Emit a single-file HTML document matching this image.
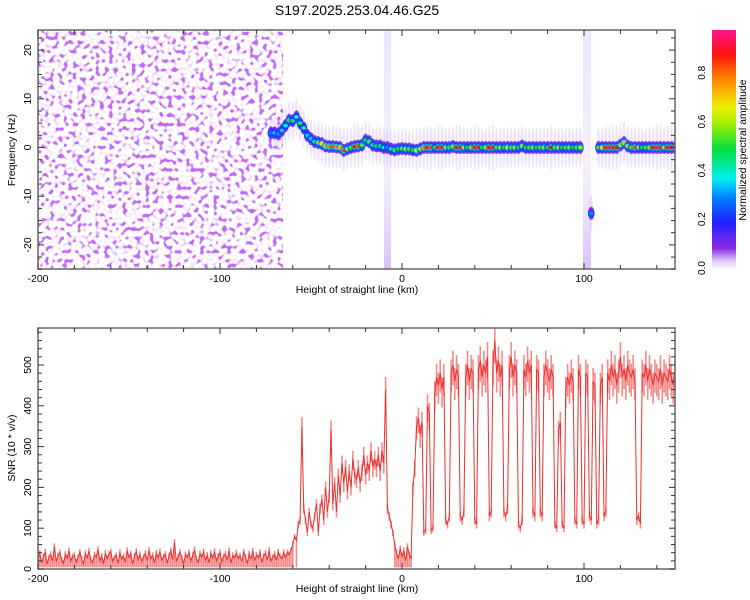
<!DOCTYPE html>
<html><head><meta charset="utf-8"><style>
html,body{margin:0;padding:0;background:#fff;}
svg{display:block;font-family:"Liberation Sans",sans-serif;}
</style></head><body>
<svg id="chart" width="750" height="600" xmlns="http://www.w3.org/2000/svg">
<defs>
<filter id="speckle" filterUnits="userSpaceOnUse" x="38" y="30" width="245" height="240">
<feTurbulence type="fractalNoise" baseFrequency="0.22" numOctaves="1" seed="11" result="t"/>
<feColorMatrix in="t" type="matrix" values="0 0 0 0 0.48  0 0 0 0 0.1  0 0 0 0 0.9  5 0 0 0 -2.3" result="c"/>
<feComponentTransfer in="c"><feFuncA type="discrete" tableValues="0 0.06 0.12 0.18 0.3 0.55 0.9"/></feComponentTransfer>
</filter>
<linearGradient id="cbar" x1="0" y1="1" x2="0" y2="0">
<stop offset="0" stop-color="#ffffff"/><stop offset="0.04" stop-color="#dcc4f7"/><stop offset="0.09" stop-color="#8a2be2"/>
<stop offset="0.2" stop-color="#2020ff"/><stop offset="0.3" stop-color="#0080ff"/><stop offset="0.38" stop-color="#00f0f0"/>
<stop offset="0.5" stop-color="#00e040"/><stop offset="0.62" stop-color="#b0f000"/><stop offset="0.68" stop-color="#f0f000"/>
<stop offset="0.8" stop-color="#ff8000"/><stop offset="0.9" stop-color="#ff1010"/><stop offset="1" stop-color="#ff1493"/>
</linearGradient>
<linearGradient id="smear" x1="0" y1="0" x2="0" y2="1">
<stop offset="0" stop-color="#b080f0" stop-opacity="0.2"/><stop offset="0.6" stop-color="#b080f0" stop-opacity="0.12"/><stop offset="1" stop-color="#9050e8" stop-opacity="0.35"/>
</linearGradient>
<clipPath id="topclip"><rect x="38" y="30" width="637" height="239"/></clipPath>
<clipPath id="botclip"><rect x="38" y="328" width="637" height="241"/></clipPath>
</defs>
<text x="357" y="15" font-size="14" text-anchor="middle">S197.2025.253.04.46.G25</text>
<g id="topplot" clip-path="url(#topclip)">
<rect x="38" y="30" width="245" height="240" fill="#7a30e0" filter="url(#speckle)"/>
<rect x="384" y="30" width="7" height="239" fill="url(#smear)"/>
<rect x="583" y="30" width="8" height="239" fill="url(#smear)"/>
<g id="ridge"></g>
</g>
<g id="topaxes"></g>
<rect x="712" y="30" width="24" height="240" fill="url(#cbar)"/>
<g id="cbticks"></g>
<text transform="translate(746,150) rotate(-90)" font-size="10.5" text-anchor="middle">Normalized spectral amplitude</text>
<text x="357" y="293" font-size="10.5" text-anchor="middle">Height of straight line (km)</text>
<text transform="translate(15,150) rotate(-90)" font-size="10.5" text-anchor="middle">Frequency (Hz)</text>
<g clip-path="url(#botclip)"><g id="snrbars"></g><path id="snrline" fill="none" stroke="#e83030" stroke-width="1"/></g>
<g id="botaxes"></g>
<text x="357" y="592" font-size="10.5" text-anchor="middle">Height of straight line (km)</text>
<text transform="translate(15,448) rotate(-90)" font-size="10.5" text-anchor="middle">SNR (10 * v/v)</text>
</svg>
<script>
const snrStartKm = -200;
const snrValues = [
25,38,15,30,42,12,28,35,20,55,
18,32,40,22,14,36,26,45,19,30,
33,16,28,41,24,12,38,27,44,21,
15,34,29,47,20,31,13,39,25,36,
42,19,27,33,14,40,24,30,17,45,
28,37,12,31,43,22,35,18,29,38,
20,46,25,33,15,39,27,42,21,30,
36,14,32,44,23,65,18,30,41,26,
13,35,28,40,19,33,47,24,16,37,
29,42,21,34,15,38,26,43,20,31,
40,17,30,36,22,45,14,33,27,39,
25,32,18,41,29,13,37,24,44,20,
34,27,40,16,31,38,22,45,19,28,
36,21,42,30,25,40,
28,40,35,45,60, 80,70,110,120,348, 150,120,90,140,110, 100,130,160,90,150, 170,120,200,140,180,
340,160,210,140,230, 180,260,210,250,190, 240,200,270,230,220, 250,210,240,280,230,
260,240,290,250,270, 250,280,240,290,260, 440,150,130,110,90, 60,40,25,50,30,
45,20,55,35,25, 200,250,350,370,330,360,90,95,400,380,95,100,
430,470,450,480,440,470,120,110,130,480,500,460,490,470,130,120,140,470,500,460,490,480,
120,110,490,510,470,500,480,520,130,140,500,560,480,510,470,500,140,130,150,490,520,470,500,480,
110,100,120,490,470,510,480,500,140,130,490,480,140,130,470,500,480,460,490,470,110,100,340,360,
110,100,440,470,450,480,460,120,110,490,470,120,110,480,470,130,120,460,450,110,120,450,470,130,140,
480,460,500,470,490,450,480,520,470,490,460,500,480,470,490,460,120,130,110,
480,470,500,460,490,470,450,480,470,460,490,450,480,470,460,490,470,450,480
];
const snrTicks = [0,100,200,300,400,500];
const kmTicks = [-200,-100,0,100];
const freqTicks = [-20,-10,0,10,20];
const cbTicks = ["0.0","0.2","0.4","0.6","0.8"];

const ridgeKm = [-72,-70,-68,-66,-64,-62,-60,-58,-56,-54,-52,-50,-48,-46,-44,-42,-40,-38,-36,-34,-32,-30,-28,-26,-24,-22,-20,-18,-16,-14,-12,-10,-8,-6,-4,-2,0,2,4,6,8,10,12,14,16,18,20,22,24,26,28,30,32,34,36,38,40,42,44,46,48,50,52,54,56,58,60,62,64,66,68,70,72,74,76,78,80,82,84,86,88,90,92,94,96,98,100,102,104,106,108,110,112,114,116,118,120,122,124,126,128,130,132,134,136,138,140,142,144,146,148,150];
const ridgeFreq = [3,3,2.8,3.5,4.5,5.6,5.5,6.3,5,4,2.5,1.8,1.2,1,0.8,0.3,0.2,0.2,0.1,0,-0.6,-0.3,0,0.2,0.3,0.5,1.5,1.2,0.5,0.3,0.3,0,0,-0.3,-0.5,-0.3,-0.2,-0.3,-0.3,-0.5,-0.6,-0.3,0,0,0,0,0,0,0,0,0.2,0,0,0,0,0,0,0,0,0,0,0,0,0,0,0,0,0,0,0.3,0,0,0,0,0,0,0,0,0,0,0,0,0,0,0,0,0,0,-13.5,0,0,0,0,0,0,0,0.5,1,0.3,0,0,0,0,0,0,0,0,0,0,0,0,0];
const ridgeAmp = [0.3,0.35,0.3,0.35,0.4,0.55,0.45,0.4,0.45,0.4,0.35,0.35,0.45,0.6,0.7,0.75,0.8,0.85,0.8,0.75,0.85,0.6,0.55,0.9,0.85,0.55,0.5,0.55,0.45,0.5,0.45,0.4,0.3,0.45,0.55,0.5,0.55,0.6,0.55,0.5,0.7,0.6,0.8,0.9,0.85,0.5,0.9,0.95,0.6,0.55,0.6,0.9,0.95,0.6,0.5,0.6,0.9,0.95,0.5,0.6,0.9,0.95,0.55,0.6,0.5,0.65,0.55,0.6,0.5,0.6,0.5,0.55,0.6,0.5,0.55,0.6,0.5,0.9,0.55,0.6,0.5,0.55,0.6,0.5,0.55,0.6,0,0,0.3,0,0.55,0.65,0.9,0.95,0.95,0.9,0.6,0.75,0.6,0.55,0.85,0.6,0.5,0.55,0.6,0.9,0.95,0.95,0.6,0.9,0.95,0.95];

const NS = "http://www.w3.org/2000/svg";
const X = km => 402 + km * 1.82;
const YF = f => 147.5 - f * 4.87;
const YS = s => 569 - s * 0.408;
function mk(tag, attrs, parent) { const e = document.createElementNS(NS, tag); for (const k in attrs) e.setAttribute(k, attrs[k]); parent.appendChild(e); return e; }
const stops = [[0,[255,255,255]],[0.04,[220,196,247]],[0.09,[138,43,226]],[0.2,[32,32,255]],[0.3,[0,128,255]],[0.38,[0,240,240]],[0.5,[0,224,64]],[0.62,[176,240,0]],[0.68,[240,240,0]],[0.8,[255,128,0]],[0.9,[255,16,16]],[1,[255,20,147]]];
function cmap(v){ v=Math.max(0,Math.min(1,v)); for(let i=1;i<stops.length;i++){ if(v<=stops[i][0]){ const a=stops[i-1],b=stops[i],t=(v-a[0])/(b[0]-a[0]); return 'rgb('+a[1].map((c,j)=>Math.round(c+(b[1][j]-c)*t)).join(',')+')'; } } return 'rgb(255,20,147)'; }

// ridge
const rg = document.getElementById('ridge');
for (let i = 0; i < ridgeKm.length; i++) {
  const a = ridgeAmp[i]; if (a <= 0) continue;
  const cx = X(ridgeKm[i]), cy = YF(ridgeFreq[i]);
  const s1 = mk('ellipse', {cx, cy, rx: 1.6, ry: 16 + a * 8, fill: '#a070ec', opacity: 0.18}, rg);
  
  
  const h = mk('ellipse', {cx, cy, rx: 3.2, ry: 6.5, fill: '#5a18e8', opacity: 0.8}, rg);
  
  
}
for (let i = 0; i < ridgeKm.length; i++) {
  const a = ridgeAmp[i]; if (a <= 0) continue;
  const cx = X(ridgeKm[i]), cy = YF(ridgeFreq[i]);
  const m = mk('ellipse', {cx, cy, rx: 3.4, ry: 4.5, fill: cmap(Math.min(a, 0.24))}, rg);
  
  
  const c = mk('ellipse', {cx, cy, rx: 3, ry: 3.2, fill: cmap(a * 0.5)}, rg);
  
  
  const k = mk('ellipse', {cx, cy, rx: 2.4, ry: 2, fill: cmap(a)}, rg);
  
  
}

// axes
function frame(g, x0, y0, w, h, name) {
  const r = mk('rect', {x: x0, y: y0, width: w, height: h, fill: 'none', stroke: '#666', 'stroke-width': 1.5}, g);
  
  
}
function ticksX(g, yb, yt, labY) {
  for (let km = -200; km <= 150; km += 20) {
    const x = X(km), L = (km % 100 === 0) ? 6 : 4;
    mk('line', {x1: x, y1: yb, x2: x, y2: yb - L, stroke: '#333'}, g);
    mk('line', {x1: x, y1: yt, x2: x, y2: yt + L, stroke: '#333'}, g);
  }
  kmTicks.forEach(km => {
    const t = mk('text', {x: X(km), y: labY, 'font-size': 10.5, 'text-anchor': 'middle'}, g);
    t.textContent = km;
    
    
  });
}
const ta = document.getElementById('topaxes');
frame(ta, 38, 30, 637, 239, 'top-plot-frame');
ticksX(ta, 269, 30, 282);
for (let f = -25; f <= 24; f += 2.5) {
  const y = YF(f), L = (f % 10 === 0) ? 6 : 4;
  mk('line', {x1: 38, y1: y, x2: 38 + L, y2: y, stroke: '#333'}, ta);
  mk('line', {x1: 675, y1: y, x2: 675 - L, y2: y, stroke: '#333'}, ta);
}
freqTicks.forEach(f => {
  const t = mk('text', {transform: 'translate(31,' + YF(f) + ') rotate(-90)', 'font-size': 10.5, 'text-anchor': 'middle'}, ta);
  t.textContent = f;
  
  
});
const ba = document.getElementById('botaxes');
frame(ba, 38, 328, 637, 241, 'bottom-plot-frame');
ticksX(ba, 569, 328, 582);
for (let s = 0; s <= 580; s += 20) {
  const y = YS(s), L = (s % 100 === 0) ? 6 : 4;
  mk('line', {x1: 38, y1: y, x2: 38 + L, y2: y, stroke: '#333'}, ba);
  mk('line', {x1: 675, y1: y, x2: 675 - L, y2: y, stroke: '#333'}, ba);
}
snrTicks.forEach(s => {
  const t = mk('text', {transform: 'translate(31,' + YS(s) + ') rotate(-90)', 'font-size': 10.5, 'text-anchor': 'middle'}, ba);
  t.textContent = s;
  
  
});
const cb = document.getElementById('cbticks');
cbTicks.forEach((v, i) => {
  const y = 268 - parseFloat(v) * 244;
  const t = mk('text', {transform: 'translate(705,' + y + ') rotate(-90)', 'font-size': 10, 'text-anchor': 'middle'}, cb);
  t.textContent = v;
  
  
});

// snr: per-sample spread bars (dense-noise look) plus line
const sb = document.getElementById('snrbars');
snrValues.forEach((v, i) => {
  const x = X(snrStartKm + i);
  const lo = v < 80 ? 4 : v * 0.9, hi = v < 80 ? v + 8 : v * 1.07;
  const b = mk('rect', {x: x - 0.8, y: YS(hi), width: 1.6, height: YS(lo) - YS(hi), fill: '#ee4040', opacity: 0.6}, sb);
  
  
});
let d = '';
snrValues.forEach((v, i) => { d += (i ? 'L' : 'M') + X(snrStartKm + i).toFixed(2) + ',' + YS(v).toFixed(2); });
document.getElementById('snrline').setAttribute('d', d);
</script>
</body></html>
